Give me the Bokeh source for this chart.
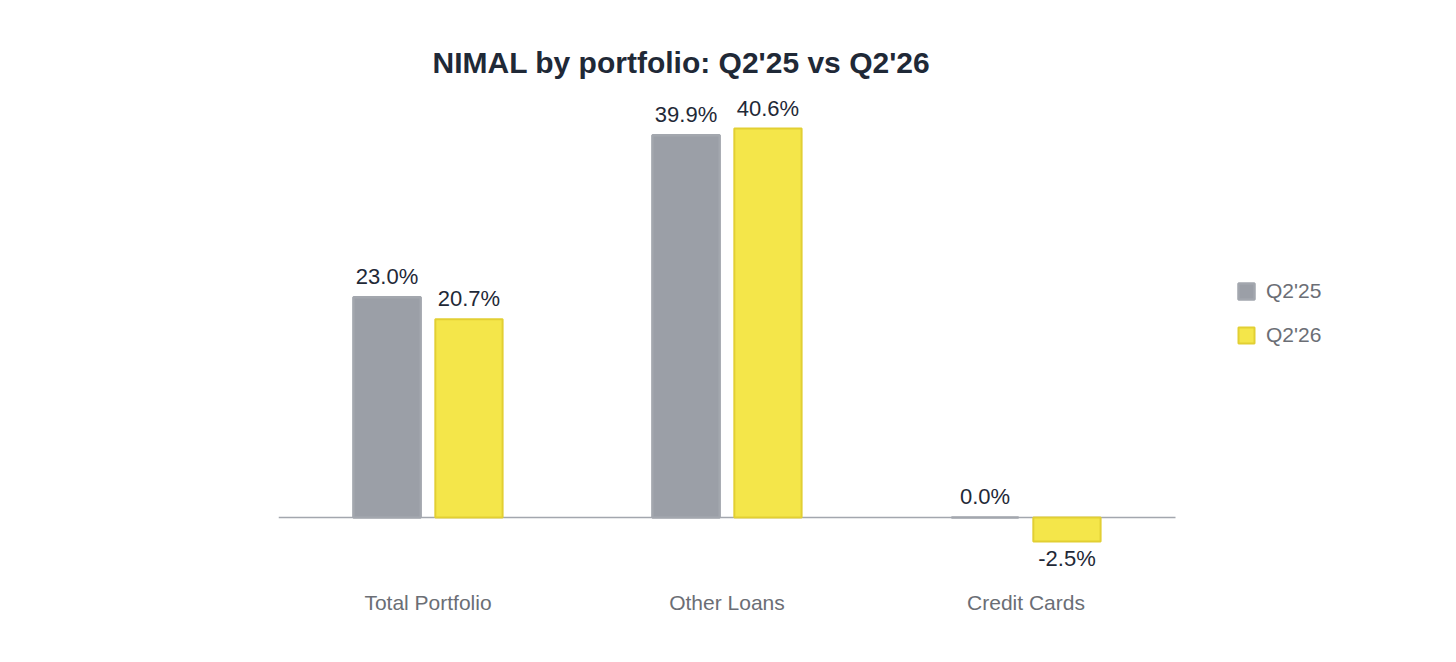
from bokeh.plotting import figure
from bokeh.models import ColumnDataSource, Legend, LegendItem, Range1d, FixedTicker
from bokeh.core.properties import value
from bokeh.embed import file_html
from bokeh.resources import INLINE

categories = ["Total Portfolio", "Other Loans", "Credit Cards"]
series_names = ["Q2'25", "Q2'26"]
q2_25 = [23.0, 39.9, 0.0]
q2_26 = [20.7, 40.6, -2.5]

GRAY = "#9b9fa7"
GRAY_LINE = "#a3a7ae"
YELLOW = "#f4e64a"
YELLOW_LINE = "#e2cf33"
FONT = "Liberation Sans"

n = len(categories)
centers = [i + 0.5 for i in range(n)]
W = 0.225
OFF = 0.137

def fmt(v):
    return f"{v:.1f}%"

def make_src(vals, shift):
    return ColumnDataSource(dict(
        x=[c + shift for c in centers],
        top=vals,
        poslab=[fmt(v) if v >= 0 else "" for v in vals],
        neglab=[fmt(v) if v < 0 else "" for v in vals],
    ))

s1 = make_src(q2_25, -OFF)
s2 = make_src(q2_26, OFF)

# frame: 278..1400 px wide, 299 px per category
x_end = n * 1122 / 897

p = figure(width=1440, height=646, output_backend="svg", toolbar_location=None,
           x_range=Range1d(0, x_end),
           y_range=Range1d(-6.58, 44.57),
           min_border_left=278, min_border_right=40, min_border_top=90, min_border_bottom=66,
           title="NIMAL by portfolio: Q2'25 vs Q2'26")
p.outline_line_color = None
p.background_fill_color = "white"
p.border_fill_color = "white"
p.xgrid.grid_line_color = None
p.ygrid.grid_line_color = None
p.yaxis.visible = False

p.title.text_font = FONT
p.title.text_font_size = "30px"
p.title.text_font_style = "bold"
p.title.text_color = "#1f2937"
p.title.align = "left"
p.title.offset = 154
p.title.standoff = 24

p.xaxis.ticker = FixedTicker(ticks=centers)
p.xaxis.major_label_overrides = {c: cat for c, cat in zip(centers, categories)}
p.xaxis.axis_line_color = None
p.xaxis.major_tick_line_color = None
p.xaxis.minor_tick_line_color = None
p.xaxis.major_label_text_font = FONT
p.xaxis.major_label_text_font_size = "21px"
p.xaxis.major_label_text_color = "#6b6e75"
p.xaxis.major_label_standoff = 4

# zero baseline across the category area
p.line(x=[0, n], y=[0, 0], line_color="#a3a7ae", line_width=1.5)

r1 = p.vbar(x="x", top="top", bottom=0, width=W, source=s1,
            fill_color=GRAY, line_color=GRAY_LINE, line_width=2.5)
r2 = p.vbar(x="x", top="top", bottom=0, width=W, source=s2,
            fill_color=YELLOW, line_color=YELLOW_LINE, line_width=2)

for src in (s1, s2):
    p.text(x="x", y="top", text="poslab", source=src,
           text_font=value(FONT), text_font_size="22px", text_color="#1f2937",
           text_align="center", text_baseline="bottom", y_offset=-8)
    p.text(x="x", y="top", text="neglab", source=src,
           text_font=value(FONT), text_font_size="22px", text_color="#1f2937",
           text_align="center", text_baseline="top", y_offset=5)

legend = Legend(items=[LegendItem(label=series_names[0], renderers=[r1]),
                       LegendItem(label=series_names[1], renderers=[r2])],
                location=(958, 233), orientation="vertical",
                border_line_color=None, background_fill_alpha=0,
                padding=0, margin=0, spacing=20,
                glyph_width=20, glyph_height=20, label_height=20,
                label_text_font=FONT, label_text_font_size="21px",
                label_text_color="#6b6e75", label_standoff=10)
p.add_layout(legend, "center")

open("out.html", "w").write(file_html(p, INLINE))
